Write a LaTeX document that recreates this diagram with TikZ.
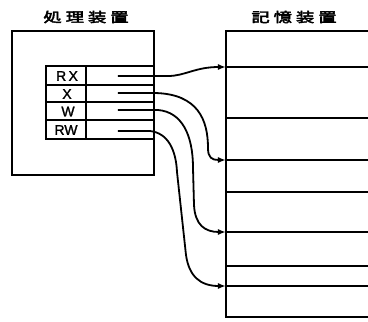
\documentclass[tikz,border=0pt]{standalone}
\usepackage{fontspec}
\setmainfont{Liberation Sans}
\newfontfamily\cjk[FakeBold=3]{Noto Sans CJK JP}
\newfontfamily\lblfont[FakeBold=1.5]{Liberation Sans}
\usetikzlibrary{arrows.meta}
\tikzset{
  thick line/.style={line width=2.2pt, line cap=rect},
  conn/.style={line width=1.8pt, -{Latex[length=8pt,width=6pt]}},
  lbl/.style={inner sep=0pt, font=\lblfont\fontsize{14}{14}\selectfont},
  title/.style={inner sep=0pt, font=\cjk\fontsize{13.5}{13.5}\selectfont, xscale=1.35},
}
\begin{document}
\begin{tikzpicture}[x=1pt,y=-1pt]
\useasboundingbox (0,0) rectangle (368,322);
% titles
\node[title] (t1) at (86,17) {処\hspace{3pt}理\hspace{3pt}装\hspace{3pt}置};
\node[title] (t2) at (294,17) {記\hspace{3pt}憶\hspace{3pt}装\hspace{3pt}置};
% processor box
\draw[thick line] (12,31) rectangle (154,175);
% table
\draw[thick line] (46,66) -- (154,66);
\draw[thick line] (46,85) -- (154,85);
\draw[thick line] (46,102) -- (154,102);
\draw[thick line] (46,120) -- (154,120);
\draw[thick line] (46,139) -- (154,139);
\draw[thick line] (46,66) -- (46,139);
\draw[thick line] (86,66) -- (86,139);
\node[lbl] (rx) at (67,76) {R\,X};
\node[lbl] (x) at (67,94) {X};
\node[lbl] (w) at (68,111.5) {W};
\node[lbl] (rw) at (66,130) {RW};
% memory box
\draw[thick line] (370,31) -- (226,31) -- (226,317) -- (370,317);
\foreach \yy in {67,118,160,192,232,266,286}
  \draw[thick line] (226,\yy) -- (370,\yy);
% connector start/end points
\coordinate (s1) at (118,76);
\coordinate (s2) at (118,93);
\coordinate (s3) at (118,110);
\coordinate (s4) at (118,131);
\coordinate (e1) at (226,67);
\coordinate (e2) at (226,160);
\coordinate (e3) at (226,232);
\coordinate (e4) at (226,286);
% connectors
\draw[conn] (s1) -- (168,76) .. controls (185,76) and (195,67) .. (e1);
\draw[conn] (s2) -- (155,93) .. controls (198,94) and (208,120) .. (208,148)
   .. controls (208,158) and (212,160) .. (e2);
\draw[conn] (s3) -- (158,110) .. controls (182,112) and (193,135) .. (193,168)
   -- (194,205) .. controls (195,225) and (205,232) .. (e3);
\draw[conn] (s4) -- (150,131) .. controls (168,133) and (176,150) .. (177,172)
   -- (186,255) .. controls (189,276) and (200,286) .. (e4);
\end{tikzpicture}
\end{document}
